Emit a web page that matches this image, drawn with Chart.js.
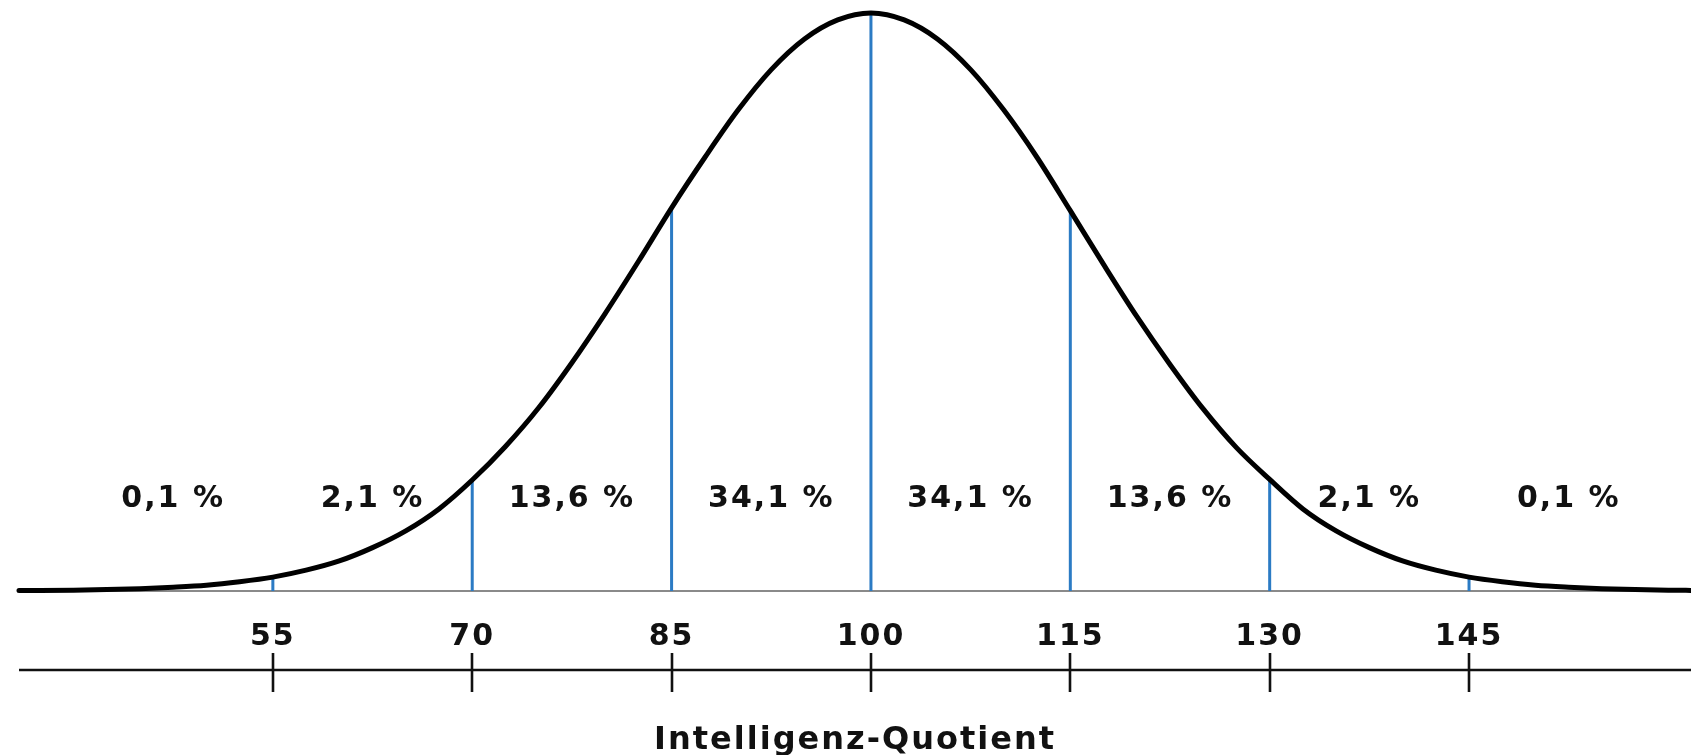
<!DOCTYPE html>
<html lang="de">
<head>
<meta charset="utf-8">
<title>Intelligenz-Quotient</title>
<script src="https://cdn.jsdelivr.net/npm/chart.js@4/dist/chart.umd.min.js"></script>
<style>
  html,body{margin:0;padding:0;background:#fff;}
  #wrap{width:1691px;height:755px;position:relative;}
</style>
</head>
<body>
<div id="wrap"><canvas id="iqChart"></canvas></div>
<script>
/* ---------- DATA ---------- */
// bell curve: IQ value -> relative height (peak = 100)
const curveIQ  = [35.9,37.5,40,42.5,45,47.5,50,52.5,55,57.5,60,62.5,65,67.5,70,72.5,75,77.5,80,82.5,85,87.5,90,92.5,95,97.5,100,
                  102.5,105,107.5,110,112.5,115,117.5,120,122.5,125,127.5,130,132.5,135,137.5,140,142.5,145,147.5,150,152.5,155,157.5,160,161.7];
const curveVal = [0.1,0.1,0.15,0.25,0.4,0.65,1.0,1.6,2.4,3.6,5.2,7.5,10.4,14.2,19.2,25.0,31.7,39.5,48.0,57.0,66.3,75.0,83.2,90.2,95.5,98.8,100,
                  98.8,95.5,90.2,83.2,75.0,65.8,56.5,47.5,39.2,31.5,24.8,19.3,14.2,10.4,7.5,5.2,3.6,2.4,1.6,1.0,0.65,0.4,0.25,0.15,0.1];

// sigma boundaries (blue lines + axis ticks)
const sigmaIQ  = [55,70,85,100,115,130,145];
const sigmaTop = [2.4,19.2,66.3,100,65.8,19.3,2.4];

// share of the population per band
const pctLabels = ['0,1 %','2,1 %','13,6 %','34,1 %','34,1 %','13,6 %','2,1 %','0,1 %'];
const pctIQ     = [47.5,62.5,77.5,92.5,107.5,122.5,137.5,152.5];

const axisTitle = 'Intelligenz-Quotient';

/* ---------- STYLE ---------- */
const FONT = '"DejaVu Sans", sans-serif';
const TEXT_SPACING = '2px';
const TEXT_COLOR = '#111';
const PCT_LEVEL = 15.8;     // y value where the % labels sit

/* ---------- PLUGIN: % labels + lower IQ axis ---------- */
const iqDecor = {
  id:'iqDecor',
  beforeDraw(c){ c.ctx.letterSpacing = TEXT_SPACING; },
  afterDraw(c){
    const {ctx, chartArea, scales:{x,y}} = c;
    ctx.save();
    const ay = chartArea.bottom + 79;
    ctx.strokeStyle = '#111'; ctx.lineWidth = 2.6;
    ctx.beginPath();
    ctx.moveTo(chartArea.left, ay); ctx.lineTo(chartArea.right, ay);
    x.ticks.forEach(t=>{
      const px = Math.round(x.getPixelForValue(t.value));
      ctx.moveTo(px, ay-17); ctx.lineTo(px, ay+22);
    });
    ctx.stroke();

    ctx.font = `bold 30px ${FONT}`;
    ctx.fillStyle = TEXT_COLOR;
    ctx.textAlign = 'center'; ctx.textBaseline = 'middle';
    pctLabels.forEach((t,i)=>ctx.fillText(t, x.getPixelForValue(pctIQ[i]), y.getPixelForValue(PCT_LEVEL)));
    ctx.restore();
  }
};

/* ---------- CHART ---------- */
const sigmaLines = sigmaIQ.flatMap((v,i)=>[{x:v,y:0},{x:v,y:sigmaTop[i]},{x:v,y:null}]);
const curve = curveIQ.map((v,i)=>({x:v,y:curveVal[i]}));

new Chart(document.getElementById('iqChart'),{
  type:'line',
  data:{datasets:[
    {label:'IQ',data:curve,borderColor:'#000',borderWidth:5,pointRadius:0,cubicInterpolationMode:'monotone',clip:false,
     borderJoinStyle:'round',borderCapStyle:'round'},
    {label:'Sigma',data:sigmaLines,borderColor:'#2b7bc4',borderWidth:3,pointRadius:0,spanGaps:false,clip:false}
  ]},
  options:{
    responsive:true,maintainAspectRatio:false,animation:false,
    layout:{padding:{left:19,right:0,top:13,bottom:0}},
    plugins:{legend:{display:false},tooltip:{enabled:false}},
    events:[],
    scales:{
      x:{
        type:'linear',min:35.9,max:161.7,
        afterBuildTicks:s=>{ s.ticks = sigmaIQ.map(v=>({value:v})); },
        afterFit:s=>{ s.height = 164; },
        grid:{display:false,drawTicks:false},
        border:{display:true,color:'#8a8a8a',width:2},
        ticks:{autoSkip:false,maxRotation:0,padding:28,color:TEXT_COLOR,
               font:{family:FONT,weight:'bold',size:30}},
        title:{display:true,text:axisTitle,color:TEXT_COLOR,
               font:{family:FONT,weight:'bold',size:32,lineHeight:1},padding:{top:0,bottom:-2}}
      },
      y:{display:false,min:0,max:100}
    }
  },
  plugins:[iqDecor]
});
</script>
</body>
</html>
